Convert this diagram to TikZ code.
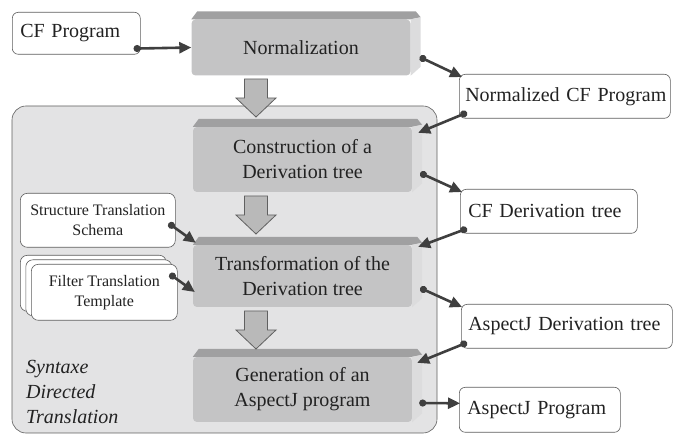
\documentclass[tikz,border=0pt]{standalone}
\usepackage{fontspec}
\setmainfont{Liberation Serif}
\usetikzlibrary{positioning,arrows.meta,calc,shadows}

\definecolor{facegray}{HTML}{C4C4C5}
\definecolor{bevtopgray}{HTML}{A0A0A1}
\definecolor{bevsidegray}{HTML}{DCDCDD}
\definecolor{framefill}{HTML}{E3E3E4}
\definecolor{boxline}{HTML}{5E5E5E}
\definecolor{linegray}{HTML}{3F3F3F}
\definecolor{txt}{HTML}{222222}

\begin{document}
\hyphenpenalty=10000
\begin{tikzpicture}[x=1pt, y=-1pt,
  every node/.style={text=txt},
  proc/.style={fill=facegray, rounded corners=4pt, align=center,
               minimum width=219pt, font=\fontsize{20}{25}\selectfont, inner sep=2pt},
  data/.style={draw=boxline, fill=white, rounded corners=6pt, align=left, semithick,
               font=\fontsize{20}{24}\selectfont, inner xsep=8pt,
               inner ysep=2pt, minimum height=44pt},
  small/.style={draw=boxline, fill=white, rounded corners=7pt, align=center, semithick,
                font=\fontsize{16}{20}\selectfont, inner sep=2pt},
  bevtop/.style={fill=bevtopgray},
  bevside/.style={fill=bevsidegray},
  hollow/.style={fill=gray!55, draw=gray!75!black, line width=0.8pt, line join=miter},
  conn/.style={draw=linegray, line width=2.6pt,
               {Circle[length=7pt]}-{Triangle[length=12pt,width=11pt]}}]
\useasboundingbox (0,0) rectangle (675,435);
% the syntax directed translation frame
\draw[draw=boxline, fill=framefill, semithick, rounded corners=14pt] (12,106) rectangle (437,433);
\node[anchor=west, align=left, font=\fontsize{20}{25}\selectfont\itshape, inner sep=0pt]
  (sdt) at (26,392) {Syntaxe\\Directed\\Translation};
% processing steps
\node[proc, minimum height=56pt] (norm) at (301,47.5) {Normalization};
\node[proc, minimum height=65pt] (constr) at (302.5,159.5) {Construction of a\\Derivation tree};
\node[proc, minimum height=62pt] (transf) at (302.5,276) {Transformation of the\\Derivation tree};
\node[proc, minimum height=65pt] (gener) at (302.5,389.5) {Generation of an\\AspectJ program};
\foreach \n in {norm,constr,transf,gener}{
  \fill[bevtop] (\n.north west) -- ++(6,-8) -- ($(\n.north east)+(5,-8)$)
    -- ($(\n.north east)+(10,-2)$) -- (\n.north east) -- cycle;
  \fill[bevside] (\n.north east) -- ($(\n.north east)+(10,-2)$)
    -- ($(\n.south east)+(10,-9)$) -- (\n.south east) -- cycle;
}
% big arrows between the steps
\coordinate (h1) at (256,79);
\coordinate (h2) at (256,196);
\coordinate (h3) at (256,311);
\foreach \h in {h1,h2,h3}
  \draw[hollow] (\h) ++(-11.5,0) -- ++(23,0) -- ++(0,19) -- ++(8.5,0)
    -- ++(-20,19) -- ++(-20,-19) -- ++(8.5,0) -- cycle;
% inputs and outputs
\node[data, anchor=north west, text width=112pt, minimum height=42pt] (cfprog) at (12,12) {CF Program};
\node[data, anchor=north west, text width=199pt, inner xsep=6pt] (normcf) at (459,74)
  {\mbox{Normalized CF Program}};
\node[data, anchor=north west, text width=161pt] (cfdt) at (460,189) {CF Derivation tree};
\node[data, anchor=north west, text width=197pt, inner xsep=7pt] (ajdt) at (461,304)
  {\mbox{AspectJ Derivation tree}};
\node[data, anchor=north west, text width=145pt, minimum height=45pt] (ajprog) at (459,387) {AspectJ Program};
\node[small, anchor=north west, minimum width=155pt, minimum height=54pt] (sts) at (20,193)
  {Structure Translation\\Schema};
\node[small, anchor=north west, minimum width=146pt, minimum height=56pt,
      double copy shadow={shadow xshift=-5.5pt, shadow yshift=4.5pt, draw=boxline, fill=white}]
  (ftt) at (31,264) {Filter Translation\\Template};
% connectors
\draw[conn] ($(cfprog.south east)+(-7,-6)$) -- (norm.west);
\draw[conn] ($(norm.east)+(9,9.5)$) -- ($(normcf.north west)+(3,3)$);
\draw[conn] ($(normcf.south west)+(8,-6)$) -- ($(constr.north east)+(6,6)$);
\draw[conn] ($(constr.east)+(8,13.5)$) -- ($(cfdt.north west)+(2,3)$);
\draw[conn] ($(cfdt.south west)+(7,-5)$) -- ($(transf.north east)+(6,2)$);
\draw[conn] ($(transf.east)+(8,12)$) -- ($(ajdt.north west)+(1,3)$);
\draw[conn] ($(ajdt.south west)+(6,-6)$) -- ($(gener.north east)+(5,6)$);
\draw[conn] ($(gener.east)+(7,13.5)$) -- ($(ajprog.west)+(1,-6.5)$);
\draw[conn] ($(sts.east)+(-7,3)$) -- ($(transf.north west)+(3,-2)$);
\draw[conn] ($(ftt.north east)+(-8,10)$) -- ($(transf.west)+(2,16)$);
\end{tikzpicture}
\end{document}
